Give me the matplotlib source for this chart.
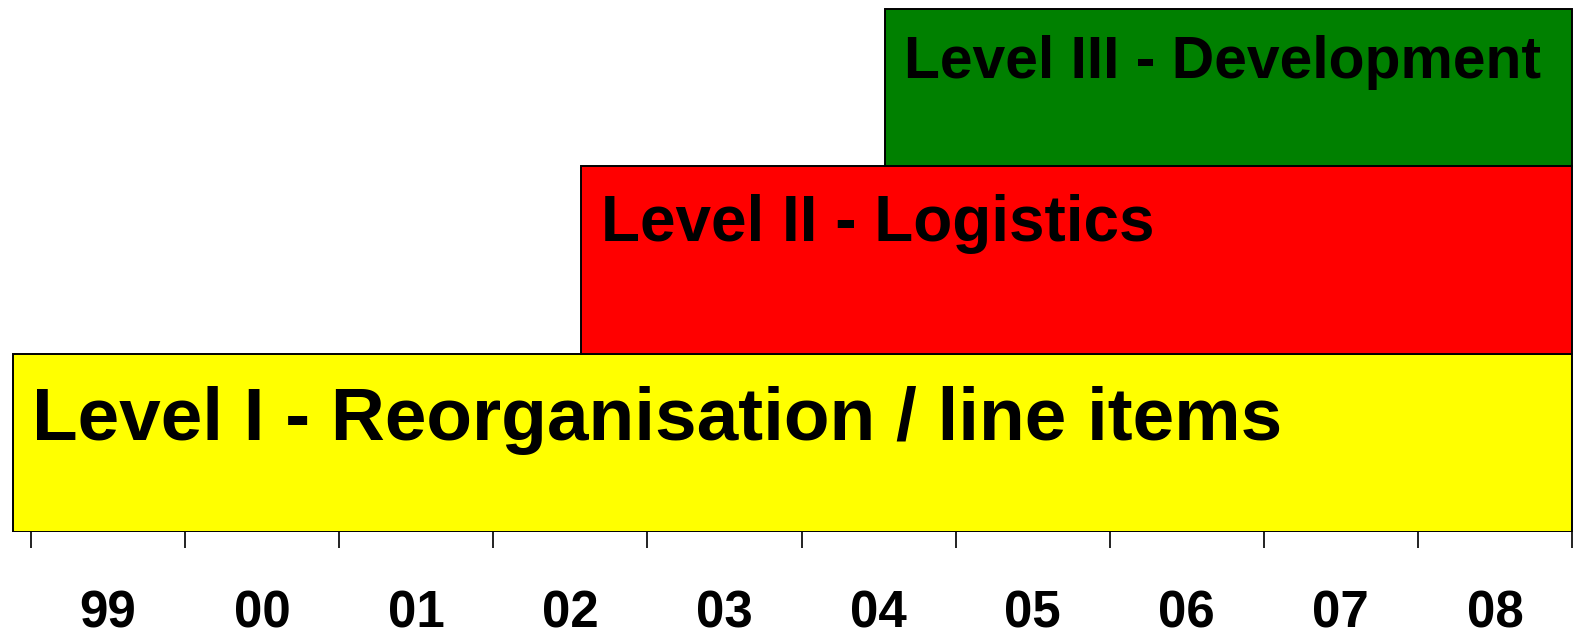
import matplotlib
matplotlib.use("Agg")
import matplotlib.pyplot as plt

# Data
labels = ["Level I - Reorganisation / line items", "Level II - Logistics", "Level III - Development"]
starts = [1998.88, 2002.57, 2004.54]
ends = [2009.0, 2009.0, 2009.0]
bottoms = [0, 178, 366]
heights = [178, 188, 157]
colors = ["#FFFF00", "#FF0000", "#008000"]
year_ticks = list(range(1999, 2010))
year_labels = ["99", "00", "01", "02", "03", "04", "05", "06", "07", "08"]

plt.rcParams['font.family'] = ['Liberation Sans', 'DejaVu Sans']
plt.rcParams['font.weight'] = 'bold'

W, H = 1580, 634
fig = plt.figure(figsize=(W / 100, H / 100), dpi=100)
ax = fig.add_axes([0, 102 / H, 1, (H - 102) / H])

px_per_year = 154.1
x0 = 1999 - 31 / px_per_year
x1 = 1999 + (W - 31) / px_per_year
ax.set_xlim(x0, x1)
ax.set_ylim(0, 532)

widths = [e - s for s, e in zip(starts, ends)]
ax.bar(starts, heights, width=widths, bottom=bottoms, align='edge',
       color=colors, edgecolor='black', linewidth=1.4)

fontsizes = [53.8, 46, 42.4]
offsets = [(19, -86), (20, -75), (19, -69)]
for s, b, h, lab, fs, off in zip(starts, bottoms, heights, labels, fontsizes, offsets):
    ax.annotate(lab, xy=(s, b + h), xytext=off, textcoords='offset pixels',
                ha='left', va='baseline', fontsize=fs, fontweight='bold',
                color='black')

for sp in ax.spines.values():
    sp.set_visible(False)
ax.set_yticks([])
ax.set_xticks(year_ticks)
ax.set_xticklabels([])
ax.tick_params(axis='x', which='major', direction='out', length=11.5, width=1.4, color='#222222')
ax.set_xticks([y + 0.5 for y in year_ticks[:-1]], minor=True)
ax.set_xticklabels(year_labels, minor=True, fontsize=36.7, fontweight='bold')
ax.tick_params(axis='x', which='minor', length=0, pad=41.5)
ax.patch.set_alpha(0)

fig.savefig("out.png", dpi=100)
